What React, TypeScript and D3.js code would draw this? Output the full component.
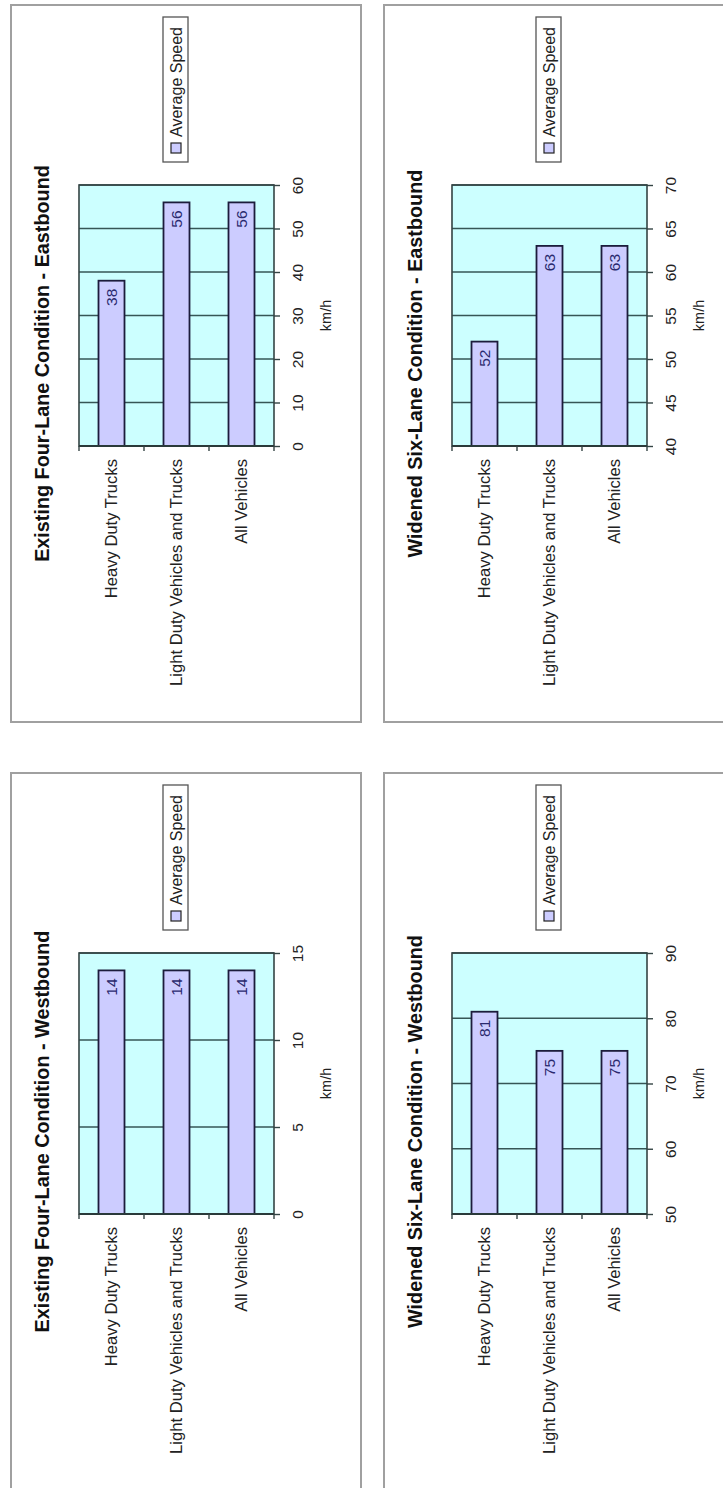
import { axisRight, scaleBand, scaleLinear, select } from 'd3';
import React, { useEffect, useRef } from 'react';

const WIDTH = 723;
const HEIGHT = 1488;

const CATEGORIES = ['Heavy Duty Trucks', 'Light Duty Vehicles and Trucks', 'All Vehicles'];
const SERIES_NAME = 'Average Speed';
const UNIT = 'km/h';

const EXISTING_EAST = [38, 56, 56];
const WIDENED_EAST = [52, 63, 63];
const EXISTING_WEST = [14, 14, 14];
const WIDENED_WEST = [81, 75, 75];

const TICKS_EXISTING_EAST = [0, 10, 20, 30, 40, 50, 60];
const TICKS_WIDENED_EAST = [40, 45, 50, 55, 60, 65, 70];
const TICKS_EXISTING_WEST = [0, 5, 10, 15];
const TICKS_WIDENED_WEST = [50, 60, 70, 80, 90];

const PANELS = [
  { title: 'Existing Four-Lane Condition - Eastbound', values: EXISTING_EAST, ticks: TICKS_EXISTING_EAST, x0: 11, y0: 5 },
  { title: 'Widened Six-Lane Condition - Eastbound', values: WIDENED_EAST, ticks: TICKS_WIDENED_EAST, x0: 384, y0: 5 },
  { title: 'Existing Four-Lane Condition - Westbound', values: EXISTING_WEST, ticks: TICKS_EXISTING_WEST, x0: 11, y0: 773 },
  { title: 'Widened Six-Lane Condition - Westbound', values: WIDENED_WEST, ticks: TICKS_WIDENED_WEST, x0: 384, y0: 773 },
];

// panel geometry, relative to the panel frame
const FRAME_W = 350;
const FRAME_H = 717;
const PLOT_LEFT = 68;
const PLOT_RIGHT = 263;
const PLOT_TOP = 180;
const PLOT_BOTTOM = 441;

const FONT = "'Liberation Sans', Arial, sans-serif";

const App = (): JSX.Element => {
  const ref = useRef<SVGSVGElement>(null);

  useEffect(() => {
    if (ref.current === null) return;
    ref.current.replaceChildren();

    const svg = select(ref.current)
      .attr('width', WIDTH)
      .attr('height', HEIGHT)
      .attr('viewBox', [0, 0, WIDTH, HEIGHT])
      .style('font-family', FONT);

    svg.append('rect').attr('width', WIDTH).attr('height', HEIGHT).attr('fill', '#ffffff');

    PANELS.forEach((p) => {
      const g = svg.append('g').attr('transform', `translate(${p.x0},${p.y0})`);

      // frame
      g.append('rect')
        .attr('width', FRAME_W)
        .attr('height', FRAME_H)
        .attr('fill', '#ffffff')
        .attr('stroke', '#a0a0a0')
        .attr('stroke-width', 2);

      const x = scaleBand()
        .domain(CATEGORIES)
        .range([PLOT_LEFT, PLOT_RIGHT])
        .paddingInner(0.6)
        .paddingOuter(0.3);
      const y = scaleLinear()
        .domain([p.ticks[0], p.ticks[p.ticks.length - 1]])
        .range([PLOT_BOTTOM, PLOT_TOP]);

      // plot area
      g.append('rect')
        .attr('x', PLOT_LEFT)
        .attr('y', PLOT_TOP)
        .attr('width', PLOT_RIGHT - PLOT_LEFT)
        .attr('height', PLOT_BOTTOM - PLOT_TOP)
        .attr('fill', '#ccffff');

      // gridlines
      g.append('g')
        .selectAll('line')
        .data(p.ticks)
        .join('line')
        .attr('x1', PLOT_LEFT)
        .attr('x2', PLOT_RIGHT)
        .attr('y1', (d) => y(d))
        .attr('y2', (d) => y(d))
        .attr('stroke', '#365656')
        .attr('stroke-width', 1.4);

      g.append('rect')
        .attr('x', PLOT_LEFT)
        .attr('y', PLOT_TOP)
        .attr('width', PLOT_RIGHT - PLOT_LEFT)
        .attr('height', PLOT_BOTTOM - PLOT_TOP)
        .attr('fill', 'none')
        .attr('stroke', '#344444')
        .attr('stroke-width', 1.6);

      // bars
      const data = CATEGORIES.map((c, i) => ({ c, v: p.values[i] }));
      g.append('g')
        .selectAll('rect')
        .data(data)
        .join('rect')
        .attr('x', (d) => x(d.c) ?? 0)
        .attr('y', (d) => y(d.v))
        .attr('width', x.bandwidth())
        .attr('height', (d) => PLOT_BOTTOM - y(d.v))
        .attr('fill', '#ccccff')
        .attr('stroke', '#1c1c3c')
        .attr('stroke-width', 1.8);

      // data labels
      g.append('g')
        .selectAll('text')
        .data(data)
        .join('text')
        .attr('transform', (d) => `translate(${(x(d.c) ?? 0) + x.bandwidth() / 2},${y(d.v) + 8}) rotate(-90)`)
        .attr('text-anchor', 'end')
        .attr('dy', '0.35em')
        .attr('font-size', 15.5)
        .attr('fill', '#2a2a6e')
        .text((d) => d.v);

      // value axis on the right side
      g.append('g')
        .attr('transform', `translate(${PLOT_RIGHT},0)`)
        .call(axisRight(y).tickValues(p.ticks).tickSize(6).tickFormat((d) => String(d)))
        .call((a) => a.select('.domain').remove())
        .call((a) => a.selectAll('.tick line').attr('stroke', '#344444').attr('stroke-width', 1.4))
        .call((a) =>
          a
            .selectAll('.tick text')
            .attr('x', null)
            .attr('dy', '0.35em')
            .attr('transform', 'translate(24,0) rotate(-90)')
            .attr('text-anchor', 'middle')
            .attr('font-family', FONT)
            .attr('font-size', 15.5)
            .attr('fill', '#222'),
        );

      // category axis: line, ticks between categories, labels
      g.append('line')
        .attr('x1', PLOT_LEFT)
        .attr('x2', PLOT_RIGHT)
        .attr('y1', PLOT_BOTTOM)
        .attr('y2', PLOT_BOTTOM)
        .attr('stroke', '#2a3a3a')
        .attr('stroke-width', 2);

      const bounds = [0, 1, 2, 3].map((i) => PLOT_LEFT + i * x.step());
      g.append('g')
        .selectAll('line')
        .data(bounds)
        .join('line')
        .attr('x1', (d) => d)
        .attr('x2', (d) => d)
        .attr('y1', PLOT_BOTTOM)
        .attr('y2', PLOT_BOTTOM + 5)
        .attr('stroke', '#344444')
        .attr('stroke-width', 1.4);

      g.append('g')
        .selectAll('text')
        .data(CATEGORIES)
        .join('text')
        .attr('transform', (d) => `translate(${(x(d) ?? 0) + x.bandwidth() / 2},${PLOT_BOTTOM + 13}) rotate(-90)`)
        .attr('text-anchor', 'end')
        .attr('dy', '0.35em')
        .attr('font-size', 16.6)
        .attr('fill', '#222')
        .text((d) => d);

      // unit label
      g.append('text')
        .attr('transform', `translate(315,${(PLOT_TOP + PLOT_BOTTOM) / 2}) rotate(-90)`)
        .attr('text-anchor', 'middle')
        .attr('dy', '0.35em')
        .attr('font-size', 14.5)
        .attr('fill', '#222')
        .text(UNIT);

      // title
      g.append('text')
        .attr('transform', `translate(31,${FRAME_H / 2}) rotate(-90)`)
        .attr('text-anchor', 'middle')
        .attr('dy', '0.35em')
        .attr('font-size', 19.8)
        .attr('font-weight', 'bold')
        .attr('fill', '#111')
        .text(p.title);

      // legend
      const lg = g.append('g');
      lg.append('rect')
        .attr('x', 152)
        .attr('y', 12)
        .attr('width', 25)
        .attr('height', 145)
        .attr('fill', '#ffffff')
        .attr('stroke', '#555')
        .attr('stroke-width', 1.3);
      lg.append('rect')
        .attr('x', 160)
        .attr('y', 138)
        .attr('width', 10)
        .attr('height', 10)
        .attr('fill', '#ccccff')
        .attr('stroke', '#222')
        .attr('stroke-width', 1.2);
      lg.append('text')
        .attr('transform', 'translate(165,132) rotate(-90)')
        .attr('text-anchor', 'start')
        .attr('dy', '0.35em')
        .attr('font-size', 16)
        .attr('fill', '#222')
        .text(SERIES_NAME);
    });
  }, []);

  return (
    <div style={{ position: 'absolute', left: 0, top: 0, width: WIDTH, height: HEIGHT, overflow: 'hidden', background: '#fff' }}>
      <svg ref={ref} style={{ display: 'block' }} />
    </div>
  );
};

export default App;
